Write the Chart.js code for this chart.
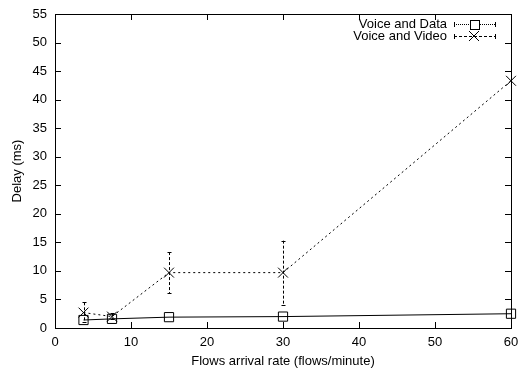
<!DOCTYPE html>
<html>
<head>
<meta charset="utf-8">
<script src="https://cdn.jsdelivr.net/npm/chart.js@4"></script>
<style>
  body { margin: 0; background: #fff; }
  #wrap { width: 519px; height: 373px; }
</style>
</head>
<body>
<div id="wrap"><canvas id="delayChart" width="519" height="373"></canvas></div>
<script>
// data
const rates = [3.75, 7.5, 15, 30, 60];
const dataDelay = [1.4, 1.6, 1.9, 2.0, 2.5];
const videoDelay = [2.7, 2.0, 9.7, 9.7, 43.3];
const videoLow = [1.0, 1.5, 6.1, 4.0, 43.3];
const videoHigh = [4.5, 2.6, 13.3, 15.3, 43.3];
const seriesNames = ['Voice and Data', 'Voice and Video'];
const xTicks = [0, 10, 20, 30, 40, 50, 60];
const yTicks = [0, 5, 10, 15, 20, 25, 30, 35, 40, 45, 50, 55];

const FONT = '"Liberation Sans", Arial, sans-serif';
const FSIZE = 13;

// gnuplot style inward ticks on all four sides
const tickPlugin = {
  id: 'innerTicks',
  afterDraw(chart) {
    const ctx = chart.ctx;
    const a = chart.chartArea;
    const xs = chart.scales.x, ys = chart.scales.y;
    ctx.save();
    ctx.strokeStyle = '#000';
    ctx.lineWidth = 1;
    ctx.beginPath();
    xTicks.forEach(v => {
      const px = Math.round(xs.getPixelForValue(v)) + 0.5;
      ctx.moveTo(px, a.bottom); ctx.lineTo(px, a.bottom - 6);
      ctx.moveTo(px, a.top); ctx.lineTo(px, a.top + 6);
    });
    yTicks.forEach(v => {
      const py = Math.round(ys.getPixelForValue(v)) + 0.5;
      ctx.moveTo(a.left, py); ctx.lineTo(a.left + 6, py);
      ctx.moveTo(a.right, py); ctx.lineTo(a.right - 6, py);
    });
    ctx.stroke();
    ctx.strokeRect(Math.round(a.left) + 0.5, Math.round(a.top) + 0.5,
      Math.round(a.right - a.left), Math.round(a.bottom - a.top));
    ctx.restore();
  }
};

// dashed error bars for the video series
const errorPlugin = {
  id: 'errorBars',
  afterDatasetsDraw(chart) {
    const ctx = chart.ctx;
    const xs = chart.scales.x, ys = chart.scales.y;
    ctx.save();
    ctx.strokeStyle = '#000';
    ctx.lineWidth = 1;
    rates.forEach((r, i) => {
      if (videoHigh[i] === videoLow[i]) return;
      const px = Math.round(xs.getPixelForValue(r)) + 0.5;
      const top = ys.getPixelForValue(videoHigh[i]);
      const bot = ys.getPixelForValue(videoLow[i]);
      ctx.setLineDash([3, 2]);
      ctx.beginPath();
      ctx.moveTo(px, top); ctx.lineTo(px, bot);
      ctx.stroke();
      ctx.setLineDash([]);
      ctx.beginPath();
      ctx.moveTo(px - 2, Math.round(top) + 0.5); ctx.lineTo(px + 2, Math.round(top) + 0.5);
      ctx.moveTo(px - 2, Math.round(bot) + 0.5); ctx.lineTo(px + 2, Math.round(bot) + 0.5);
      ctx.stroke();
    });
    ctx.restore();
  }
};

// key in the top right corner, text then sample line with marker
const keyPlugin = {
  id: 'gnuKey',
  afterDraw(chart) {
    const ctx = chart.ctx;
    ctx.save();
    ctx.font = FSIZE + 'px ' + FONT;
    ctx.fillStyle = '#000';
    ctx.textAlign = 'right';
    ctx.textBaseline = 'middle';
    const rows = [24, 36];
    const x0 = 454, x1 = 495, mx = 474;
    seriesNames.forEach((name, i) => {
      const y = rows[i];
      ctx.fillText(name, 447, y);
      ctx.strokeStyle = '#000';
      ctx.lineWidth = 1;
      ctx.setLineDash(i === 0 ? [1, 1] : [3, 2]);
      ctx.beginPath();
      ctx.moveTo(x0, y + 0.5); ctx.lineTo(x1, y + 0.5);
      ctx.stroke();
      ctx.setLineDash([]);
      ctx.beginPath();
      ctx.moveTo(x0 + 0.5, y - 2); ctx.lineTo(x0 + 0.5, y + 3);
      ctx.moveTo(x1 + 0.5, y - 2); ctx.lineTo(x1 + 0.5, y + 3);
      ctx.stroke();
      if (i === 0) {
        ctx.fillStyle = '#fff';
        ctx.fillRect(mx - 4, y - 4, 9, 9);
        ctx.strokeRect(mx - 4 + 0.5, y - 4 + 0.5, 9, 9);
        ctx.fillStyle = '#000';
      } else {
        ctx.beginPath();
        ctx.moveTo(mx - 5, y - 5); ctx.lineTo(mx + 5, y + 5);
        ctx.moveTo(mx - 5, y + 5); ctx.lineTo(mx + 5, y - 5);
        ctx.stroke();
      }
    });
    ctx.restore();
  }
};

const ctx = document.getElementById('delayChart').getContext('2d');

new Chart(ctx, {
  type: 'scatter',
  data: {
    datasets: [
      {
        label: seriesNames[0],
        data: rates.map((r, i) => ({ x: r, y: dataDelay[i] })),
        showLine: true,
        borderColor: '#000',
        borderWidth: 1,
        pointStyle: 'rect',
        pointRadius: 6.5,
        pointBorderColor: '#000',
        pointBackgroundColor: 'rgba(0,0,0,0)',
        pointBorderWidth: 1
      },
      {
        label: seriesNames[1],
        data: rates.map((r, i) => ({ x: r, y: videoDelay[i] })),
        showLine: true,
        borderColor: '#000',
        borderWidth: 1,
        borderDash: [2, 3],
        pointStyle: 'crossRot',
        pointRadius: 7,
        pointBorderColor: '#000',
        pointBorderWidth: 1
      }
    ]
  },
  options: {
    responsive: false,
    animation: false,
    clip: false,
    layout: { padding: { top: 14, right: 7, left: 0, bottom: 0 } },
    plugins: {
      legend: { display: false },
      tooltip: { enabled: false }
    },
    scales: {
      x: {
        type: 'linear',
        min: 0,
        max: 60,
        afterBuildTicks: s => { s.ticks = xTicks.map(v => ({ value: v })); },
        afterFit: s => { s.height = 45; s.paddingLeft = 0; s.paddingRight = 0; },
        grid: { display: false, drawTicks: false },
        border: { display: false },
        ticks: { color: '#000', font: { family: FONT, size: FSIZE }, padding: 7, maxRotation: 0 },
        title: { display: true, text: 'Flows arrival rate (flows/minute)', color: '#000', font: { family: FONT, size: FSIZE }, padding: { top: 3 } }
      },
      y: {
        type: 'linear',
        min: 0,
        max: 55,
        afterBuildTicks: s => { s.ticks = yTicks.map(v => ({ value: v })); },
        afterFit: s => { s.width = 55; s.paddingTop = 0; s.paddingBottom = 0; },
        grid: { display: false, drawTicks: false },
        border: { display: false },
        ticks: { color: '#000', font: { family: FONT, size: FSIZE }, padding: 8 },
        title: { display: true, text: 'Delay (ms)', color: '#000', font: { family: FONT, size: FSIZE }, padding: { top: 10, bottom: 0 } }
      }
    }
  },
  plugins: [errorPlugin, tickPlugin, keyPlugin]
});
</script>
</body>
</html>
